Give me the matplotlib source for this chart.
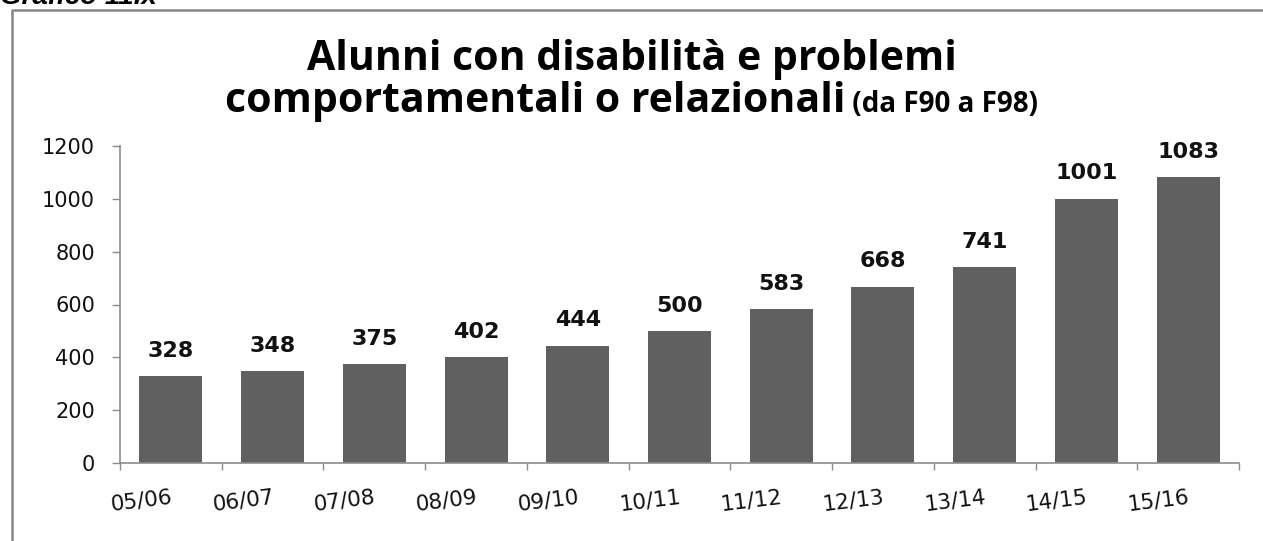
import matplotlib as mpl
mpl.use('Agg')

import matplotlib.pyplot as plt
from matplotlib.lines import Line2D
import numpy as np

# Data
years = ["05/06", "06/07", "07/08", "08/09", "09/10", "10/11",
         "11/12", "12/13", "13/14", "14/15", "15/16"]
students = [328, 348, 375, 402, 444, 500, 583, 668, 741, 1001, 1083]
y_ticks = [0, 200, 400, 600, 800, 1000, 1200]

bar_color = "#606060"
axis_color = "#8c8c8c"
frame_color = "#868686"

W, H = 1263, 541
fig = plt.figure(figsize=(W / 100, H / 100), dpi=100)
ax = fig.add_axes([120 / W, 1 - 463 / H, (1239 - 120) / W, (463 - 146) / H])

x = np.arange(len(years))
ax.bar(x, students, width=0.62, color=bar_color)

for xi, v in zip(x, students):
  ax.annotate(str(v), (xi, v), xytext=(0, 11), textcoords='offset points',
              ha='center', va='bottom', fontsize=16, fontweight='bold',
              color='#111111')

ax.set_xlim(-0.5, len(years) - 0.5)
ax.set_ylim(0, 1200)
ax.set_yticks(y_ticks)
ax.tick_params(axis='y', labelsize=15, length=6, width=1, color=axis_color,
               pad=12, labelcolor='#111111')

ax.set_xticks(x)
ax.set_xticklabels(years, rotation=7, ha='right', rotation_mode='anchor')
ax.tick_params(axis='x', which='major', length=0, pad=17, labelsize=15.5,
               labelcolor='#111111')
ax.set_xticks(np.arange(len(years) + 1) - 0.5, minor=True)
ax.tick_params(axis='x', which='minor', length=5, width=1, color=axis_color)

for side in ['top', 'right']:
  ax.spines[side].set_visible(False)
for side in ['left', 'bottom']:
  ax.spines[side].set_color(axis_color)
  ax.spines[side].set_linewidth(1.2)

# Title (two lines, second one with a smaller part)
fig.text(0.5, 1 - 60 / H, "Alunni con disabilità e problemi", ha='center',
         va='center', fontsize=29.5, fontweight='bold', family='Open Sans')
t1 = fig.text(0.5, 1 - 102 / H, "comportamentali o relazionali", ha='left',
              va='center', fontsize=29.5, fontweight='bold', family='Open Sans')
t2 = fig.text(0.5, 1 - 104 / H, " (da F90 a F98)", ha='left',
              va='center', fontsize=20, fontweight='bold', family='Open Sans')
fig.canvas.draw()
r = fig.canvas.get_renderer()
w1 = t1.get_window_extent(r).width
w2 = t2.get_window_extent(r).width
x0 = (W / 2 - (w1 + w2) / 2)
t1.set_x(x0 / W)
t2.set_x((x0 + w1) / W)

# Caption at the top (cut off by the page edge, as in the source) and grey frame
fig.text(0.0, 1 - 4 / H, "Grafico 11.x", ha='left', va='baseline',
         fontsize=20, fontweight='bold', style='italic', family='Liberation Sans')
fig.add_artist(Line2D([12 / W, 12 / W, 1.0], [0.0, 1 - 10 / H, 1 - 10 / H],
                      transform=fig.transFigure, color=frame_color, linewidth=1.8))

fig.savefig("out.png", dpi=100)
plt.close()
